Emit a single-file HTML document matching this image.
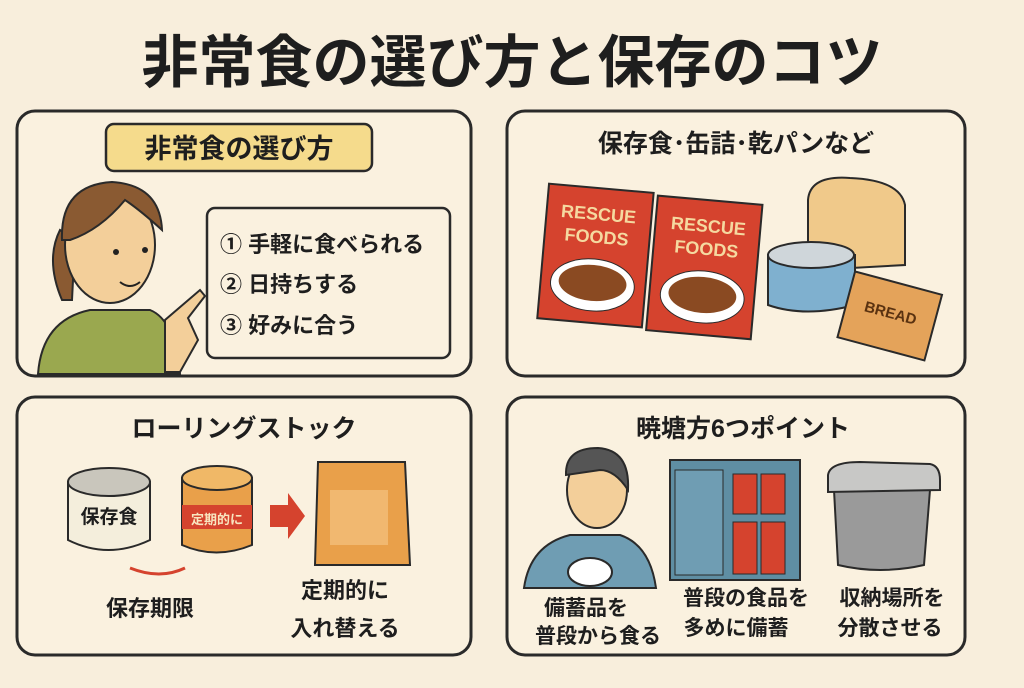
<!DOCTYPE html>
<html><head><meta charset="utf-8"><style>
body{margin:0;width:1024px;height:683px;background:#f8eedc;overflow:hidden;font-family:"Liberation Sans","Noto Sans CJK JP",sans-serif;}
svg text{font-family:"Liberation Sans","Noto Sans CJK JP",sans-serif;font-weight:bold;fill:#1e1e1e;}
</style></head><body>
<svg width="1024" height="683" viewBox="0 0 1024 683">
<rect width="1024" height="683" fill="#f8eedc"/>
<text x="512" y="82" font-size="57" text-anchor="middle">非常食の選び方と保存のコツ</text>
<g fill="#faf1df" stroke="#2a2a2a" stroke-width="3">
<rect x="17" y="111" width="454" height="265" rx="18"/>
<rect x="507" y="111" width="458" height="265" rx="18"/>
<rect x="17" y="397" width="454" height="258" rx="18"/>
<rect x="507" y="397" width="458" height="258" rx="18"/>
</g>
<!-- TL -->
<rect x="106" y="124" width="266" height="47" rx="8" fill="#f5db8c" stroke="#2a2a2a" stroke-width="2.5"/>
<text x="239" y="158" font-size="27" text-anchor="middle">非常食の選び方</text>
<rect x="207" y="208" width="243" height="150" rx="8" fill="#faf1df" stroke="#2a2a2a" stroke-width="2.5"/>
<text x="220" y="252" font-size="22">① 手軽に食べられる</text>
<text x="220" y="292" font-size="22">② 日持ちする</text>
<text x="220" y="333" font-size="22">③ 好みに合う</text>
<path d="M38 374 Q42 320 90 310 L150 310 Q175 320 180 374Z" fill="#9aa84f" stroke="#2a2a2a" stroke-width="2"/>
<path d="M62 300 Q45 260 60 230 L75 240 L72 300Z" fill="#8a5a32" stroke="#2a2a2a" stroke-width="2"/>
<ellipse cx="110" cy="245" rx="45" ry="58" fill="#f3cf9a" stroke="#2a2a2a" stroke-width="2"/>
<path d="M62 240 Q60 185 112 182 Q160 185 162 230 Q140 210 125 200 Q100 230 70 240Z" fill="#8a5a32" stroke="#2a2a2a" stroke-width="2"/>
<circle cx="116" cy="252" r="3" fill="#222"/><circle cx="145" cy="250" r="3" fill="#222"/>
<path d="M120 282 Q130 290 140 282" fill="none" stroke="#222" stroke-width="2"/>
<path d="M165 372 L165 320 L200 290 L205 296 L188 318 L198 340 L180 372Z" fill="#f3cf9a" stroke="#2a2a2a" stroke-width="2"/>
<!-- TR -->
<text x="736" y="152" font-size="25" text-anchor="middle">保存食･缶詰･乾パンなど</text>
<g transform="rotate(5 595 255)"><rect x="543" y="188" width="105" height="135" fill="#d5432e" stroke="#2a2a2a" stroke-width="2"/>
<text x="595" y="220" font-size="18" text-anchor="middle" style="fill:#f5d9a0">RESCUE</text><text x="595" y="243" font-size="18" text-anchor="middle" style="fill:#f5d9a0">FOODS</text>
<ellipse cx="595" cy="285" rx="42" ry="26" fill="#fff" stroke="#2a2a2a"/><ellipse cx="595" cy="283" rx="34" ry="18" fill="#8a4a22"/></g>
<g transform="rotate(5 705 265)"><rect x="652" y="200" width="105" height="135" fill="#d5432e" stroke="#2a2a2a" stroke-width="2"/>
<text x="705" y="232" font-size="18" text-anchor="middle" style="fill:#f5d9a0">RESCUE</text><text x="705" y="255" font-size="18" text-anchor="middle" style="fill:#f5d9a0">FOODS</text>
<ellipse cx="705" cy="297" rx="42" ry="26" fill="#fff" stroke="#2a2a2a"/><ellipse cx="705" cy="295" rx="34" ry="18" fill="#8a4a22"/></g>
<path d="M808 250 L808 200 Q810 175 850 178 Q900 180 905 205 L905 265 L815 270Z" fill="#f0c98a" stroke="#2a2a2a" stroke-width="2"/>
<path d="M768 255 L768 305 Q805 318 855 305 L855 255Z" fill="#7fb0cf" stroke="#2a2a2a" stroke-width="2"/>
<ellipse cx="811" cy="255" rx="43" ry="13" fill="#cfd6da" stroke="#2a2a2a" stroke-width="2"/>
<g transform="rotate(15 890 315)"><rect x="845" y="282" width="90" height="68" fill="#e4a35a" stroke="#2a2a2a" stroke-width="2"/>
<text x="890" y="318" font-size="15" text-anchor="middle" style="fill:#5a3210">BREAD</text></g>
<!-- BL -->
<text x="244" y="437" font-size="25" text-anchor="middle">ローリングストック</text>
<path d="M68 482 L68 540 Q108 560 150 540 L150 482Z" fill="#f4eedc" stroke="#2a2a2a" stroke-width="2"/>
<ellipse cx="109" cy="482" rx="41" ry="14" fill="#c9c6bc" stroke="#2a2a2a" stroke-width="2"/>
<text x="109" y="523" font-size="19" text-anchor="middle">保存食</text>
<path d="M182 478 L182 545 Q216 560 252 545 L252 478Z" fill="#e9a04a" stroke="#2a2a2a" stroke-width="2"/>
<rect x="182" y="505" width="70" height="24" fill="#d5432e"/>
<ellipse cx="217" cy="478" rx="35" ry="12" fill="#f0b867" stroke="#2a2a2a" stroke-width="2"/>
<text x="217" y="524" font-size="13" text-anchor="middle" style="fill:#f8e6c0">定期的に</text>
<path d="M270 505 L288 505 L288 493 L305 516 L288 539 L288 527 L270 527Z" fill="#d5432e"/>
<path d="M318 462 L405 462 L410 565 L315 565Z" fill="#e9a04a" stroke="#2a2a2a" stroke-width="2"/>
<rect x="330" y="490" width="58" height="55" fill="#f1b870"/>
<path d="M130 568 Q160 580 185 568" fill="none" stroke="#d5432e" stroke-width="3"/>
<text x="150" y="616" font-size="22" text-anchor="middle">保存期限</text>
<text x="345" y="598" font-size="22" text-anchor="middle">定期的に</text>
<text x="345" y="636" font-size="22" text-anchor="middle">入れ替える</text>
<!-- BR -->
<text x="743" y="437" font-size="25" text-anchor="middle">暁塘方6つポイント</text>
<path d="M524 588 Q530 545 570 535 L620 535 Q650 545 656 588Z" fill="#6f9db3" stroke="#2a2a2a" stroke-width="2"/>
<ellipse cx="597" cy="490" rx="30" ry="38" fill="#f3cf9a" stroke="#2a2a2a" stroke-width="2"/>
<path d="M566 475 Q565 448 598 448 Q630 450 628 490 Q615 470 600 470Z" fill="#555" stroke="#2a2a2a" stroke-width="2"/>
<ellipse cx="590" cy="572" rx="22" ry="14" fill="#fff" stroke="#2a2a2a" stroke-width="2"/>
<rect x="670" y="460" width="130" height="120" fill="#5f8ea3" stroke="#2a2a2a" stroke-width="2"/>
<rect x="675" y="470" width="48" height="105" fill="#6f9db3" stroke="#2a2a2a"/>
<rect x="733" y="474" width="24" height="40" fill="#d5432e" stroke="#2a2a2a"/><rect x="761" y="474" width="24" height="40" fill="#d5432e" stroke="#2a2a2a"/>
<rect x="733" y="522" width="24" height="52" fill="#d5432e" stroke="#2a2a2a"/><rect x="761" y="522" width="24" height="52" fill="#d5432e" stroke="#2a2a2a"/>
<path d="M834 490 L838 565 Q880 575 924 565 L930 490Z" fill="#9a9a9a" stroke="#2a2a2a" stroke-width="2"/>
<path d="M828 475 Q830 462 860 462 L930 464 Q940 466 940 480 L940 490 L828 492Z" fill="#c8c8c6" stroke="#2a2a2a" stroke-width="2"/>
<text x="586" y="615" font-size="21" text-anchor="middle">備蓄品を</text>
<text x="598" y="643" font-size="21" text-anchor="middle">普段から食る</text>
<text x="746" y="605" font-size="21" text-anchor="middle">普段の食品を</text>
<text x="736" y="635" font-size="21" text-anchor="middle">多めに備蓄</text>
<text x="892" y="605" font-size="21" text-anchor="middle">収納場所を</text>
<text x="890" y="635" font-size="21" text-anchor="middle">分散させる</text>
</svg>
</body></html>
